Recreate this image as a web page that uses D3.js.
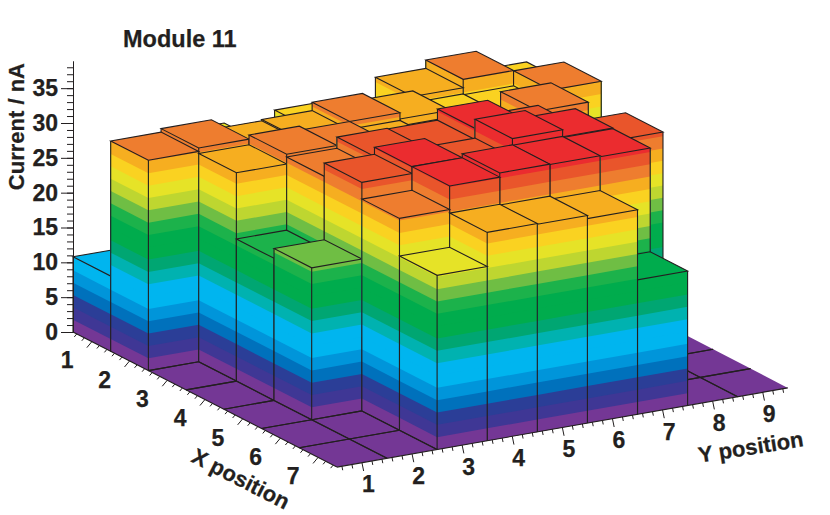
<!DOCTYPE html>
<html>
<head>
<meta charset="utf-8">
<script src="https://cdn.jsdelivr.net/npm/d3@7"></script>
<style>
  html, body { margin: 0; background: #fff; }
  text { font-family: "Liberation Sans", Arial, sans-serif; font-weight: bold; fill: #231f20; font-size: 22px; stroke: #231f20; stroke-width: 0.25px; }
</style>
</head>
<body>
<svg id="chart" width="830" height="515"></svg>
<script>
const xBins = [1, 2, 3, 4, 5, 6, 7];
const yBins = [1, 2, 3, 4, 5, 6, 7, 8, 9];

// current per Y position, one list for each X position
const currentX1 = [10.8, 25, 26.2, 25.5, 26.8, 26, 29, 30.2, 27.4];
const currentX2 = [30.2, 30.7, 29.3, 29.5, 30.7, 29.8, 28.1, 28, 30.15];
const currentX3 = [0, 29.9, 31.3, 30.7, 29.6, 28.8, 27.8, 31.2, 0];
const currentX4 = [0, 20.4, 30.9, 32.5, 32.4, 34, 32, 29, 0];
const currentX5 = [0, 21.8, 32.8, 33.8, 32.6, 35.3, 34.3, 32.45, 0];
const currentX6 = [0, 0, 30.4, 33.8, 34.4, 34.35, 34.2, 0, 0];
const currentX7 = [0, 0, 25, 29.9, 29.8, 29.35, 19.3, 0, 0];
const currents = [currentX1, currentX2, currentX3, currentX4, currentX5, currentX6, currentX7];

const zMajor = [0, 5, 10, 15, 20, 25, 30, 35];
const bandColours = [
  "#743795", "#3f3795", "#2b3e97", "#0071bc", "#0095da", "#00b5ef", "#00b5ef",
  "#00b2b0", "#00a672", "#00ac4d", "#00ac4d", "#1cb24b", "#6fbe44", "#bed630",
  "#e6e327", "#fad221", "#f6ae20", "#ee7d2f", "#e9552b", "#eb2c2f"
];
const maxCurrent = 35.4;
const ink = "#231f20";

const bandStep = maxCurrent / bandColours.length;
const levels = bandColours.map((_, k) => k * bandStep);
const colour = d3.scaleThreshold().domain(levels.slice(1)).range(bandColours);

// oblique view: each data axis moves both screen x and screen y
const xAlongX = d3.scaleLinear().domain([0, 7]).range([0, 263.9]);
const yAlongX = d3.scaleLinear().domain([0, 7]).range([0, 135.1]);
const xAlongY = d3.scaleLinear().domain([0, 9]).range([0, 450.9]);
const yAlongY = d3.scaleLinear().domain([0, 9]).range([0, -79.2]);
const zScale = d3.scaleLinear().domain([0, 38.9]).range([332, 61]);
// the far corner of the floor sits a little further right than a true parallelogram
const backDrift = d3.scaleLinear().domain([0, 63]).range([0, 2.7]);

function project(i, j, z = 0) {
  return [
    73 + xAlongX(i) + xAlongY(j) + backDrift(j * (7 - i)),
    zScale(z) + yAlongX(i) + yAlongY(j)
  ];
}

const svg = d3.select("#chart");
const line = d3.line();

function polygon(parent, pts, fill) {
  parent.append("path").attr("d", line(pts) + "Z").attr("fill", fill).attr("stroke", "none");
}

function edge(parent, a, b) {
  parent.append("path").attr("d", line([a, b]))
    .attr("fill", "none").attr("stroke", ink).attr("stroke-width", 1.1);
}

// floor
polygon(svg, [project(0, 0), project(7, 0), project(7, 9), project(0, 9)], bandColours[0]);

// back to front
const bars = [];
xBins.forEach((_, i) => {
  for (let j = yBins.length - 1; j >= 0; j--) bars.push({ i, j, z: currents[i][j] });
});

function drawBar(d) {
  const g = d3.select(this);
  const { i, j, z } = d;
  if (z === 0) {
    if (j > 0) edge(g, project(i, j), project(i + 1, j));
    if (i < 6) edge(g, project(i + 1, j), project(i + 1, j + 1));
    if (j < 8) edge(g, project(i + 1, j + 1), project(i, j + 1));
    if (i > 0) edge(g, project(i, j), project(i, j + 1));
    return;
  }
  // bands overlap up to the top so no seams show between them
  levels.filter((l) => l < z).forEach((l, k) => {
    polygon(g, [project(i, j, l), project(i + 1, j, l), project(i + 1, j, z), project(i, j, z)], bandColours[k]);
    polygon(g, [project(i + 1, j, l), project(i + 1, j + 1, l), project(i + 1, j + 1, z), project(i + 1, j, z)], bandColours[k]);
  });
  const top = [project(i, j, z), project(i + 1, j, z), project(i + 1, j + 1, z), project(i, j + 1, z)];
  polygon(g, top, colour(z));
  g.append("path").attr("d", line(top) + "Z")
    .attr("fill", "none").attr("stroke", ink).attr("stroke-width", 1.1);
  edge(g, project(i, j), project(i, j, z));
  edge(g, project(i + 1, j), project(i + 1, j, z));
  edge(g, project(i + 1, j + 1), project(i + 1, j + 1, z));
  if (j > 0) edge(g, project(i, j), project(i + 1, j));
  if (i < 6) edge(g, project(i + 1, j), project(i + 1, j + 1));
}

svg.append("g").selectAll("g").data(bars).join("g").each(drawBar);

// z axis
svg.append("g").attr("transform", "translate(73,0)")
  .call(d3.axisLeft(zScale).tickValues(d3.range(0, 39)).tickSize(6).tickSizeOuter(0).tickFormat(""))
  .call((g) => g.selectAll("path,line").attr("stroke", ink));
svg.append("g").attr("transform", "translate(73,0)")
  .call(d3.axisLeft(zScale).tickValues(zMajor).tickSize(12).tickSizeOuter(0).tickPadding(3))
  .call((g) => {
    g.selectAll("path,line").attr("stroke", ink);
    g.selectAll("text").style("font-size", "23px");
    g.attr("font-family", null).attr("font-size", null);
  });

// ticks on the two floor axes sit at bin centres with four minor ticks per bin
function floorAxis(bins, at, major, minor, labelOffset) {
  const g = svg.append("g");
  edge(g, at(0), at(bins.length));
  const positions = d3.range(0.1, bins.length, 0.2);
  g.selectAll("line").data(positions).join("line")
    .attr("x1", (t) => at(t)[0])
    .attr("y1", (t) => at(t)[1])
    .attr("x2", (t, n) => at(t)[0] + ((n - 2) % 5 === 0 ? major : minor)[0])
    .attr("y2", (t, n) => at(t)[1] + ((n - 2) % 5 === 0 ? major : minor)[1])
    .attr("stroke", ink).attr("stroke-width", 1);
  g.selectAll("text").data(bins).join("text")
    .attr("x", (b) => at(b - 0.5)[0] + labelOffset[0])
    .attr("y", (b) => at(b - 0.5)[1] + labelOffset[1])
    .attr("dy", "0.36em").attr("text-anchor", "middle")
    .style("font-size", "23px")
    .text((b) => b);
}
floorAxis(xBins, (t) => project(t, 0), [-5, 6], [-2.5, 3], [-24.8, 18.5]);
floorAxis(yBins, (t) => project(7, t), [1.7, 8.3], [0.8, 4], [6.5, 21.5]);

// titles
svg.append("text").attr("x", 123).attr("y", 47).style("font-size", "23.5px").text("Module 11");
svg.append("text").attr("transform", "translate(24,63) rotate(-90)").attr("text-anchor", "end").text("Current / nA");
svg.append("text").attr("transform", "translate(241,478.5) rotate(27.1)").attr("text-anchor", "middle").attr("dy", "0.36em").text("X position");
svg.append("text").attr("transform", "translate(750.7,446.7) rotate(-9)").attr("text-anchor", "middle").attr("dy", "0.36em").text("Y position");
</script>
</body>
</html>
